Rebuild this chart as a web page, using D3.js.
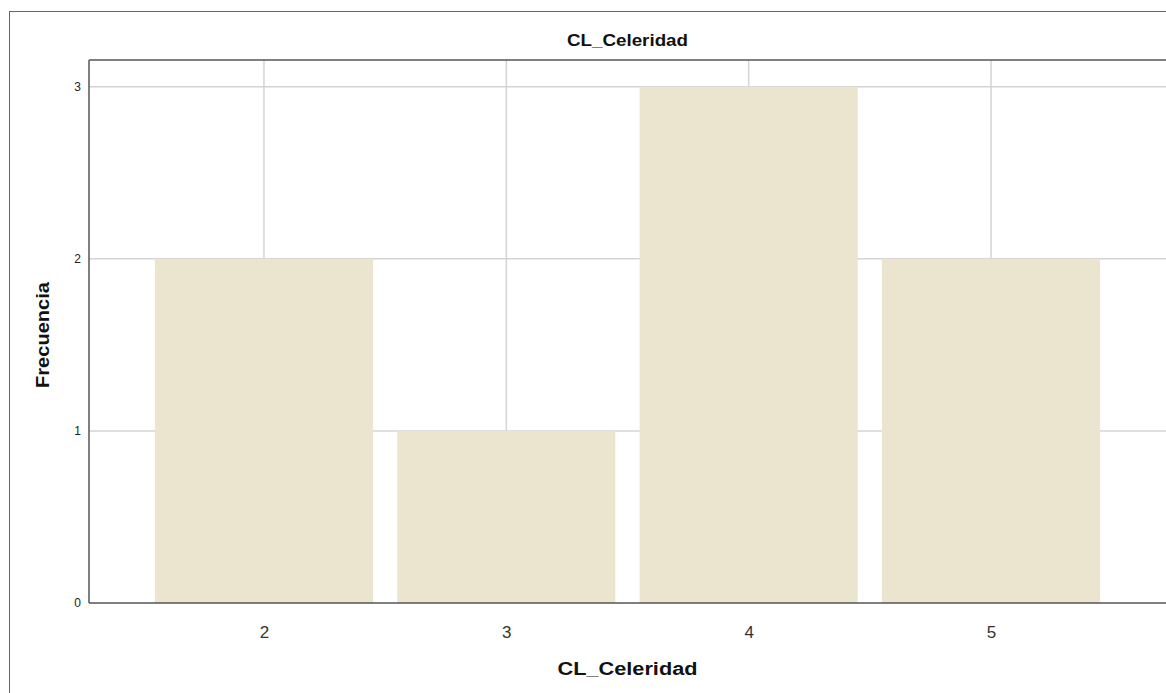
<!DOCTYPE html>
<html><head><meta charset="utf-8">
<script src="https://cdn.jsdelivr.net/npm/d3@7"></script>
<style>body{margin:0;background:#fff;} svg{display:block;font-family:Arial,"Liberation Sans",sans-serif;}</style>
</head><body>
<svg id="c" width="1166" height="693"></svg>
<script>
const categories = [2, 3, 4, 5];
const frequencies = [2, 1, 3, 2];
const yTicks = [0, 1, 2, 3];
const chartTitle = "CL_Celeridad";
const xTitle = "CL_Celeridad";
const yTitle = "Frecuencia";

const svg = d3.select("#c");
const mLeft = 89, mRight = 1166, mTop = 60, mBottom = 603;

// outer frame
svg.append("rect").attr("x", 9.5).attr("y", 11.5).attr("width", 1200).attr("height", 800)
  .attr("fill", "none").attr("stroke", "#666").attr("stroke-width", 1);

const x = d3.scaleLinear().domain([2 - 0.722, 5 + 0.722]).range([mLeft, mRight]);
const y = d3.scaleLinear().domain([0, 3]).range([mBottom, mTop + 26.7]);
const barW = x(2.45) - x(1.55);

// gridlines
svg.append("g").selectAll("line").data(yTicks.filter(d => d > 0)).join("line")
  .attr("x1", mLeft).attr("x2", mRight).attr("y1", d => y(d)).attr("y2", d => y(d))
  .attr("stroke", "#d4d4d4").attr("stroke-width", 1.5);
svg.append("g").selectAll("line").data(categories).join("line")
  .attr("x1", d => x(d)).attr("x2", d => x(d)).attr("y1", mTop).attr("y2", mBottom)
  .attr("stroke", "#d4d4d4").attr("stroke-width", 1.5);

// bars
svg.append("g").selectAll("rect").data(categories).join("rect")
  .attr("x", (d) => x(d) - barW / 2)
  .attr("width", barW)
  .attr("y", (d, i) => y(frequencies[i]))
  .attr("height", (d, i) => mBottom - y(frequencies[i]))
  .attr("fill", "#ebe4cf");

// plot frame top & axes
svg.append("line").attr("x1", mLeft).attr("x2", mRight).attr("y1", mTop).attr("y2", mTop)
  .attr("stroke", "#555").attr("stroke-width", 1.5);
svg.append("line").attr("x1", mLeft).attr("x2", mLeft).attr("y1", mTop).attr("y2", mBottom)
  .attr("stroke", "#555").attr("stroke-width", 1.5);
svg.append("line").attr("x1", mLeft).attr("x2", mRight).attr("y1", mBottom).attr("y2", mBottom)
  .attr("stroke", "#555").attr("stroke-width", 1.5);

// y axis labels
const yAxis = d3.axisLeft(y).tickValues(yTicks).tickSize(0).tickPadding(8).tickFormat(d3.format("d"));
const gy = svg.append("g").attr("transform", `translate(${mLeft},0)`).call(yAxis);
gy.select(".domain").remove();
gy.selectAll("text").attr("font-size", 12).attr("fill", "#222").attr("font-family", "Arial, 'Liberation Sans', sans-serif");

// x axis labels
const xAxis = d3.axisBottom(x).tickValues(categories).tickSize(0).tickPadding(23).tickFormat(d3.format("d"));
const gx = svg.append("g").attr("transform", `translate(0,${mBottom})`).call(xAxis);
gx.select(".domain").remove();
gx.selectAll("text").attr("font-size", 17).attr("fill", "#333").attr("font-family", "Arial, 'Liberation Sans', sans-serif");

// titles
svg.append("text").attr("x", (mLeft + mRight) / 2).attr("y", 46).attr("text-anchor", "middle")
  .attr("font-size", 16).attr("font-weight", "bold").attr("fill", "#111")
  .attr("textLength", 121).attr("lengthAdjust", "spacingAndGlyphs").text(chartTitle);
svg.append("text").attr("x", (mLeft + mRight) / 2).attr("y", 675).attr("text-anchor", "middle")
  .attr("font-size", 18).attr("font-weight", "bold").attr("fill", "#111")
  .attr("textLength", 140).attr("lengthAdjust", "spacingAndGlyphs").text(xTitle);
svg.append("text").attr("transform", `translate(49,335) rotate(-90)`).attr("text-anchor", "middle")
  .attr("font-size", 18).attr("font-weight", "bold").attr("fill", "#111")
  .attr("textLength", 106).attr("lengthAdjust", "spacingAndGlyphs").text(yTitle);
</script>
</body></html>
